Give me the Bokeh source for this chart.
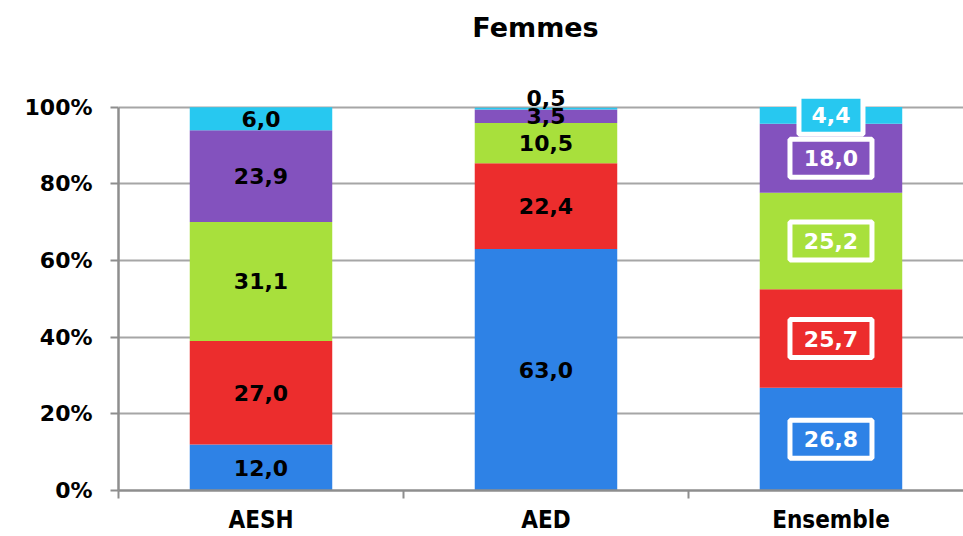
from bokeh.plotting import figure
from bokeh.layouts import column
from bokeh.models import ColumnDataSource, Range1d, FixedTicker, Div
from bokeh.core.properties import value
from bokeh.embed import file_html
from bokeh.resources import INLINE

# Parts of each group (percent), stacked bottom to top
categories = ["AESH", "AED", "Ensemble"]
series_names = ["s1", "s2", "s3", "s4", "s5"]
s1 = [12.0, 63.0, 26.8]
s2 = [27.0, 22.4, 25.7]
s3 = [31.1, 10.5, 25.2]
s4 = [23.9, 3.5, 18.0]
s5 = [6.0, 0.5, 4.4]
colors = ["#2E82E6", "#EC2D2D", "#A8E03C", "#8352BE", "#27C8F0"]
y_ticks = [0, 20, 40, 60, 80, 100]
title_text = "Femmes"

FONT = "DejaVu Sans"
AXIS_GRAY = "#8E8E8E"
GRID_GRAY = "#A6A6A6"
W, H, HEAD = 963, 536, 56

xs = [i + 0.5 for i in range(len(categories))]
values = [s1, s2, s3, s4, s5]

src = ColumnDataSource(dict(x=xs, **{n: v for n, v in zip(series_names, values)}))

# Heading above the chart, centred over the plotting frame
head = Div(
    text=(f'<div style="width:{W}px;height:{HEAD}px;line-height:{HEAD}px;'
          f'padding-left:108px;box-sizing:border-box;text-align:center;'
          f'font-family:\'{FONT}\';font-weight:bold;font-size:27px;color:black;">'
          f'{title_text}</div>'),
    width=W, height=HEAD, margin=0)

p = figure(width=W, height=H - HEAD, output_backend="svg", toolbar_location=None,
           x_range=Range1d(0, 2.965), y_range=Range1d(0, 107),
           min_border_left=118, min_border_right=0, min_border_top=24,
           min_border_bottom=46, margin=0)
p.outline_line_color = None
p.background_fill_color = "white"
p.border_fill_color = "white"

p.vbar_stack(series_names, x="x", width=0.5, color=colors, line_color=None,
             source=src)

# Value labels placed at the centre of each segment
lab_x, lab_y, lab_t, lab_c, lab_off = [], [], [], [], []
box_x, box_y, box_w, box_fill = [], [], [], []
for ci, cx in enumerate(xs):
    base = 0.0
    for si, vals in enumerate(values):
        v = vals[ci]
        mid = base + v / 2
        base += v
        lab_x.append(cx)
        lab_y.append(mid)
        lab_t.append(f"{v:.1f}".replace(".", ","))
        white = categories[ci] == "Ensemble"
        lab_c.append("white" if white else "black")
        # the thinnest AED slice label sits just above its neighbour
        lab_off.append(-11 if (categories[ci] == "AED" and si == 4) else 0)
        if white:
            box_x.append(cx)
            box_y.append(mid)
            box_w.append(64 if si == 4 else 82)
            box_fill.append(colors[si])

# Ensemble boxes: coloured fill with a white frame, top slice drawn first
order = list(range(len(box_x)))[::-1]
bsrc = ColumnDataSource(dict(x=[box_x[i] for i in order], y=[box_y[i] for i in order],
                             w=[box_w[i] for i in order],
                             fill=[box_fill[i] for i in order]))
p.rect(x="x", y="y", width="w", height=38, width_units="screen",
       height_units="screen", fill_color="fill", line_color="white",
       line_width=5, source=bsrc)

lsrc = ColumnDataSource(dict(x=lab_x, y=lab_y, t=lab_t, c=lab_c, off=lab_off))
p.text(x="x", y="y", text="t", text_color="c", y_offset="off",
       text_align="center", text_baseline="middle",
       text_font=value(FONT), text_font_size="22px", text_font_style="bold",
       source=lsrc)

# Y axis
p.yaxis.ticker = FixedTicker(ticks=y_ticks)
p.yaxis.major_label_overrides = {t: f"{t}%" for t in y_ticks}
p.yaxis.bounds = (0, 100)
p.yaxis.axis_line_color = AXIS_GRAY
p.yaxis.axis_line_width = 2.5
p.yaxis.major_tick_line_color = AXIS_GRAY
p.yaxis.major_tick_line_width = 2
p.yaxis.major_tick_out = 8
p.yaxis.major_tick_in = 0
p.yaxis.minor_tick_line_color = None
p.yaxis.major_label_standoff = 18
p.yaxis.major_label_text_font = FONT
p.yaxis.major_label_text_font_size = "22px"
p.yaxis.major_label_text_font_style = "bold"
p.yaxis.major_label_text_color = "black"

# X axis: boundary ticks between groups, labels at group centres
p.xaxis.ticker = FixedTicker(ticks=xs, minor_ticks=[0, 1, 2, 3])
p.xaxis.major_label_overrides = {x: c for x, c in zip(xs, categories)}
p.xaxis.axis_line_color = AXIS_GRAY
p.xaxis.axis_line_width = 2.5
p.xaxis.major_tick_line_color = None
p.xaxis.major_tick_out = 0
p.xaxis.major_tick_in = 0
p.xaxis.minor_tick_line_color = AXIS_GRAY
p.xaxis.minor_tick_line_width = 2
p.xaxis.minor_tick_out = 8
p.xaxis.minor_tick_in = 0
p.xaxis.major_label_standoff = 7
p.xaxis.major_label_text_font = "DejaVu Sans Condensed"
p.xaxis.major_label_text_font_size = "24px"
p.xaxis.major_label_text_font_style = "bold"
p.xaxis.major_label_text_color = "black"

p.xgrid.grid_line_color = None
p.ygrid.ticker = FixedTicker(ticks=y_ticks)
p.ygrid.grid_line_color = GRID_GRAY
p.ygrid.grid_line_width = 2

page = column(head, p, spacing=0, margin=0)
open("out.html", "w").write(file_html(page, INLINE))
